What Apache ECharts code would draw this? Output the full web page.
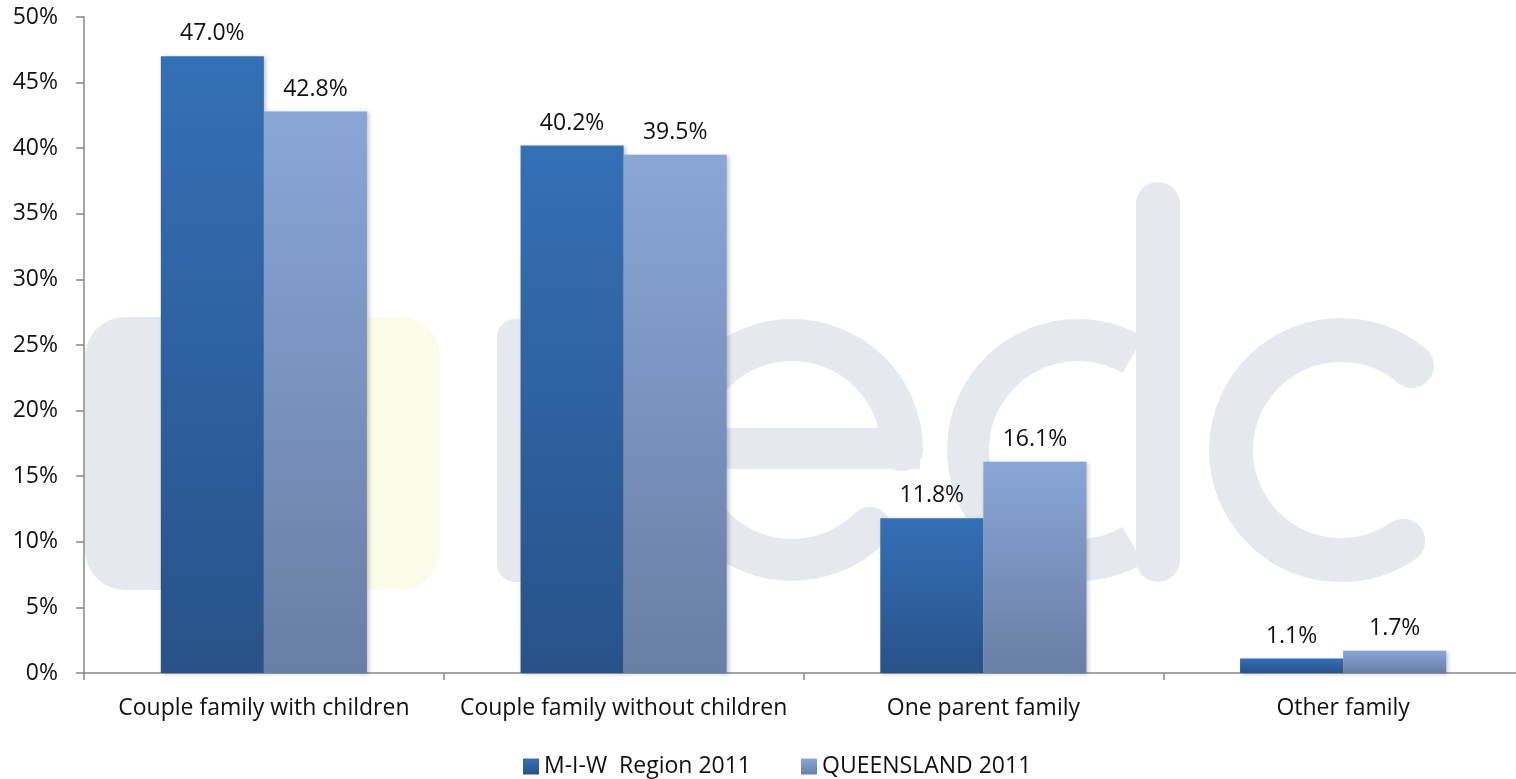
<!DOCTYPE html>
<html>
<head>
<meta charset="utf-8">
<script src="https://cdn.jsdelivr.net/npm/echarts@6/dist/echarts.min.js"></script>
<style>
html,body{margin:0;padding:0;background:#fff;}
#chart{width:1516px;height:779px;}
</style>
</head>
<body>
<div id="chart"></div>
<script>
const categories = ['Couple family with children', 'Couple family without children', 'One parent family', 'Other family'];
const seriesNames = ['M-I-W  Region 2011', 'QUEENSLAND 2011'];
const miwValues = [47.0, 40.2, 11.8, 1.1];
const qldValues = [42.8, 39.5, 16.1, 1.7];
const yTicks = { min: 0, max: 50, interval: 5 };

const FONT = 'Open Sans';
const FS = 23;
const chart = echarts.init(document.getElementById('chart'));

function grad(top, bottom) {
  return new echarts.graphic.LinearGradient(0, 0, 0, 1, [
    { offset: 0, color: top }, { offset: 1, color: bottom }
  ]);
}

const wmGrey = '#e5e9ed';
const wmYellow = '#fafbe8';

const labelCfg = {
  show: true, position: 'top', distance: 11,
  color: '#111', fontFamily: FONT, fontSize: FS,
  formatter: p => p.value.toFixed(1) + '%'
};
const shadow = { shadowBlur: 4, shadowColor: 'rgba(0,0,0,0.22)', shadowOffsetX: 2, shadowOffsetY: 1 };

chart.setOption({
  animation: false,
  backgroundColor: '#fff',
  graphic: [
    { type: 'rect', z: -10, shape: { x: 85, y: 317, width: 170, height: 273, r: 40 }, style: { fill: wmGrey } },
    { type: 'rect', z: -10, shape: { x: 300, y: 317, width: 140, height: 273, r: 40 }, style: { fill: wmYellow } },
    { type: 'rect', z: -10, shape: { x: 497, y: 319, width: 200, height: 263, r: 18 }, style: { fill: wmGrey } },
    { type: 'arc', z: -10, shape: { cx: 792, cy: 450, r: 110, startAngle: 0, endAngle: Math.PI / 4, clockwise: false },
      style: { stroke: wmGrey, lineWidth: 42, fill: null, lineCap: 'round' } },
    { type: 'rect', z: -10, shape: { x: 690, y: 428, width: 230, height: 41 }, style: { fill: wmGrey } },
    { type: 'arc', z: -10, shape: { cx: 1078, cy: 450, r: 110, startAngle: -Math.PI / 3, endAngle: Math.PI / 3, clockwise: false },
      style: { stroke: wmGrey, lineWidth: 42, fill: null } },
    { type: 'rect', z: -10, shape: { x: 1136, y: 182, width: 44, height: 400, r: 22 }, style: { fill: wmGrey } },
    { type: 'arc', z: -10, shape: { cx: 1341, cy: 450, r: 110, startAngle: -0.87, endAngle: 0.97, clockwise: false },
      style: { stroke: wmGrey, lineWidth: 44, fill: null, lineCap: 'round' } }
  ],
  grid: { left: 84, right: -7, top: 17, bottom: 106, containLabel: false, outerBoundsMode: 'none' },
  legend: {
    left: 518, top: 750,
    icon: 'rect', itemWidth: 16, itemHeight: 16, itemGap: 50,
    textStyle: { fontFamily: FONT, fontSize: FS, color: '#111' },
    data: seriesNames
  },
  xAxis: {
    type: 'category',
    data: categories,
    axisLine: { lineStyle: { color: '#878787', width: 1.5 } },
    axisTick: { show: true, length: 7, lineStyle: { color: '#878787', width: 1.5 } },
    axisLabel: { margin: 24, color: '#111', fontFamily: FONT, fontSize: FS, interval: 0 }
  },
  yAxis: {
    type: 'value',
    min: yTicks.min, max: yTicks.max, interval: yTicks.interval,
    axisLine: { show: true, lineStyle: { color: '#878787', width: 1.5 } },
    axisTick: { show: true, length: 8, lineStyle: { color: '#878787', width: 1.5 } },
    splitLine: { show: false },
    axisLabel: { margin: 26, color: '#111', fontFamily: FONT, fontSize: FS, formatter: '{value}%' }
  },
  series: [
    {
      name: seriesNames[0], type: 'bar', data: miwValues,
      barGap: '0%', barCategoryGap: '42.7%',
      itemStyle: Object.assign({ color: grad('#3470b6', '#285289') }, shadow),
      label: labelCfg
    },
    {
      name: seriesNames[1], type: 'bar', data: qldValues,
      itemStyle: Object.assign({ color: grad('#89a6d7', '#687ea5') }, shadow),
      label: labelCfg
    }
  ]
});
</script>
</body>
</html>
